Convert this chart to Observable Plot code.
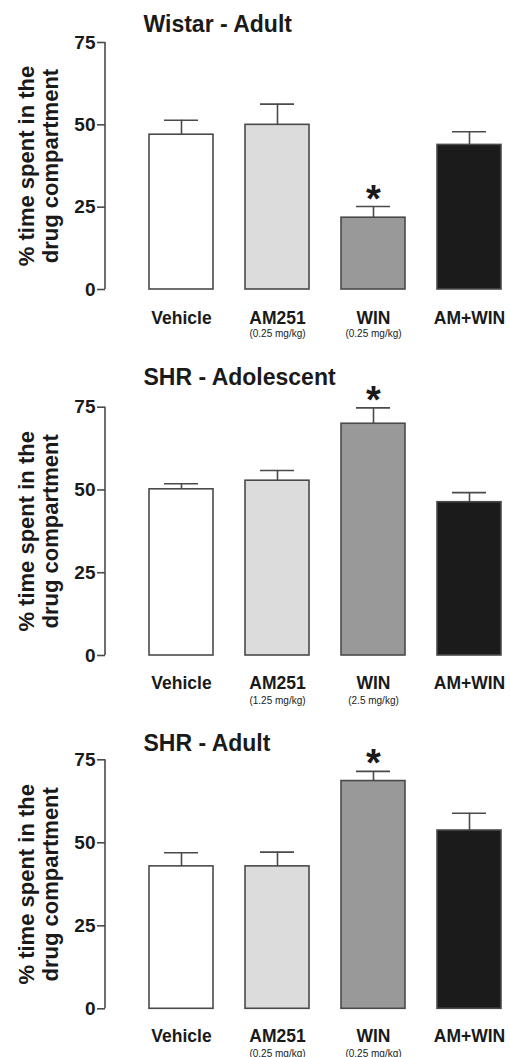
<!DOCTYPE html>
<html><head><meta charset="utf-8">
<script src="https://cdn.jsdelivr.net/npm/d3@7"></script>
<script src="https://cdn.jsdelivr.net/npm/@observablehq/plot@0.6"></script>
<style>body{margin:0;background:#fff;width:510px;overflow:hidden;} svg{display:block;}</style>
</head><body><div id="chart"></div>
<script>
// ---- data ----
const groups = ["Vehicle", "AM251", "WIN", "AM+WIN"];
const fills = ["#ffffff", "#dcdcdc", "#999999", "#1b1b1b"];
const titles = ["Wistar - Adult", "SHR - Adolescent", "SHR - Adult"];
const yTicks = [0, 25, 50, 75];
const yLabel = "% time spent in the\ndrug compartment";

const doses1 = ["", "(0.25 mg/kg)", "(0.25 mg/kg)", ""];
const means1 = [47.0, 50.0, 21.8, 43.9];
const sems1 = [4.4, 6.3, 3.4, 4.0];
const sig1 = [false, false, true, false];

const doses2 = ["", "(1.25 mg/kg)", "(2.5 mg/kg)", ""];
const means2 = [50.2, 52.8, 70.0, 46.3];
const sems2 = [1.7, 3.1, 4.8, 2.9];
const sig2 = [false, false, true, false];

const doses3 = ["", "(0.25 mg/kg)", "(0.25 mg/kg)", ""];
const means3 = [42.9, 42.9, 68.6, 53.7];
const sems3 = [4.1, 4.3, 2.9, 5.2];
const sig3 = [false, false, true, false];

// ---- layout ----
const FONT = '"Liberation Sans", Arial, Helvetica, sans-serif';
const INK = "#1a1a1a";
const LINE = "#4a4a4a";
const layouts = [
  {height: 345, top: 42, bottom: 56, titleDy: -10.5, labelDy: 34, doseDy: 47},
  {height: 365, top: 61.7, bottom: 55, titleDy: -22.7, labelDy: 33.3, doseDy: 48},
  {height: 347, top: 49.3, bottom: 48.7, titleDy: -8.6, labelDy: 32.7, doseDy: 48}
];
const panels = [
  {title: titles[0], means: means1, sems: sems1, doses: doses1, sig: sig1},
  {title: titles[1], means: means2, sems: sems2, doses: doses2, sig: sig2},
  {title: titles[2], means: means3, sems: sems3, doses: doses3, sig: sig3}
];

const axisLine = (index, scales, values, dims) =>
  d3.create("svg:line")
    .attr("x1", dims.marginLeft).attr("x2", dims.marginLeft)
    .attr("y1", scales.y(yTicks[0])).attr("y2", scales.y(yTicks[yTicks.length - 1]))
    .attr("stroke", LINE).attr("stroke-width", 1.6)
    .node();

function panel(p, L) {
  const rows = groups.map((g, i) => ({
    group: g, mean: p.means[i], upper: p.means[i] + p.sems[i],
    dose: p.doses[i], sig: p.sig[i], fill: fills[i]
  }));
  return Plot.plot({
    width: 510, height: L.height,
    marginTop: L.top, marginBottom: L.bottom, marginLeft: 105, marginRight: 9,
    x: {domain: groups, range: [149, 501], paddingInner: 1 / 3, paddingOuter: 0, axis: null},
    y: {domain: [0, 75], axis: null},
    color: {type: "identity"},
    style: {fontFamily: FONT, background: "#fff", color: INK, overflow: "visible"},
    marks: [
      Plot.ruleX(rows, {x: "group", y1: "mean", y2: "upper", stroke: LINE, strokeWidth: 1.6}),
      Plot.tickY(rows, {x: "group", y: "upper", stroke: LINE, strokeWidth: 1.6, insetLeft: 15, insetRight: 15}),
      Plot.barY(rows, {x: "group", y: "mean", fill: "fill", stroke: LINE, strokeWidth: 1.6}),
      Plot.text(rows.filter(d => d.sig), {x: "group", y: "upper", text: () => "*", fontSize: 38, fontWeight: "bold", lineAnchor: "bottom", dy: 5, fill: INK}),
      Plot.axisY({ticks: yTicks, tickSize: 8, tickPadding: 2, fontSize: 19, fontWeight: "bold", stroke: LINE, strokeWidth: 1.6, fill: INK}),
      axisLine,
      Plot.text([p.title], {frameAnchor: "top-left", dx: 38, dy: L.titleDy, textAnchor: "start", lineAnchor: "bottom", fontSize: 23, fontWeight: "bold", fill: INK}),
      Plot.text(rows, {x: "group", text: "group", frameAnchor: "bottom", lineAnchor: "bottom", dy: L.labelDy, fontSize: 17.5, fontWeight: "bold", fill: INK}),
      Plot.text(rows, {x: "group", text: "dose", frameAnchor: "bottom", lineAnchor: "bottom", dy: L.doseDy, fontSize: 10, fill: INK}),
      Plot.text([yLabel], {frameAnchor: "left", rotate: -90, dx: -67, textAnchor: "middle", lineAnchor: "middle", fontSize: 22, fontWeight: "bold", lineHeight: 1.1, fill: INK})
    ]
  });
}

const root = document.getElementById("chart");
panels.forEach((p, i) => root.appendChild(panel(p, layouts[i])));
</script>
</body></html>
